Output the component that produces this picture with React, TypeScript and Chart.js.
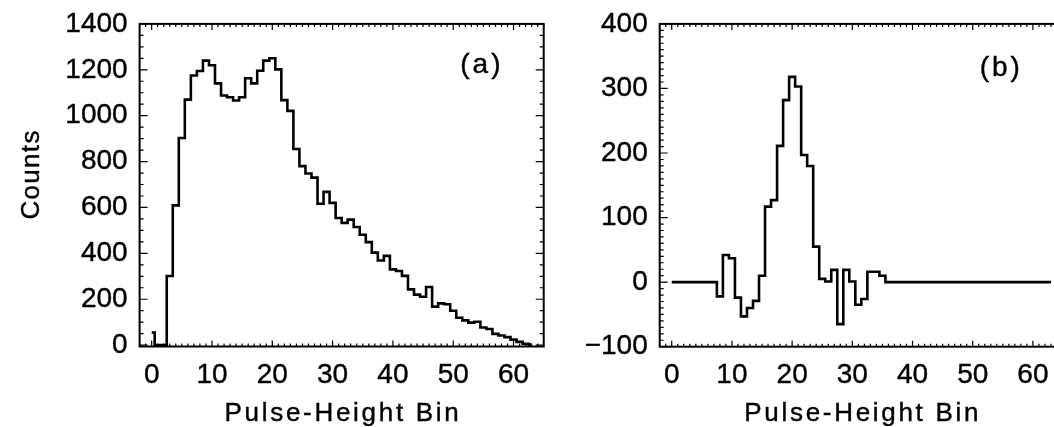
import React, { useEffect, useRef } from 'react';
import { Chart, registerables } from 'chart.js';

Chart.register(...registerables);

// Pulse-height bins 0..63
const bins: number[] = Array.from({ length: 64 }, (_, i) => i);

// Panel (a): counts per bin
const countsA: number[] = [
  55, 0, 0, 301, 609, 903, 1070, 1175, 1195, 1240,
  1220, 1141, 1088, 1080, 1066, 1080, 1163, 1141, 1196, 1240,
  1250, 1202, 1068, 1021, 855, 780, 748, 730, 616, 668,
  620, 554, 533, 547, 515, 481, 449, 403, 369, 389,
  330, 323, 302, 243, 220, 211, 253, 168, 182, 178,
  150, 119, 108, 98, 102, 77, 70, 49, 42, 35,
  24, 14, 6, 2,
];

// Panel (b): difference counts per bin
const countsB: number[] = [
  0, 0, 0, 0, 0, 0, 0, 0, -22, 42,
  37, -24, -53, -40, -29, 10, 117, 127, 211, 282,
  318, 303, 197, 180, 55, 5, 1, 19, -65, 19,
  1, -35, -26, 16, 16, 10, 0, 0, 0, 0,
  0, 0, 0, 0, 0, 0, 0, 0, 0, 0,
  0, 0, 0, 0, 0, 0, 0, 0, 0, 0,
  0, 0, 0, 0,
];

const xTicks: number[] = [0, 10, 20, 30, 40, 50, 60];
const yTicksA: number[] = [0, 200, 400, 600, 800, 1000, 1200, 1400];
const yTicksB: number[] = [-100, 0, 100, 200, 300, 400];
const xRange: number[] = [-2, 65];
const yRangeA: number[] = [-6, 1400];
const yRangeB: number[] = [-100, 400];
const panelLabels: string[] = ['(a)', '(b)'];
const panelLabelPosA: number[] = [54.5, 1218];
const panelLabelPosB: number[] = [54.5, 331];
const xTitle = 'Pulse-Height Bin';
const yTitle = 'Counts';

const FONT = "'Liberation Sans', Arial, Helvetica, sans-serif";
const STROKE = 0.4;

function heavyText(ctx: any, text: string, x: number, y: number) {
  ctx.fillText(text, x, y);
  ctx.strokeText(text, x, y);
}

const idlFrame = {
  id: 'idlFrame',
  afterDatasetsDraw(chart: any, _args: any, opts: any) {
    const { ctx, chartArea: a, scales } = chart;
    const xs = scales.x;
    const ys = scales.y;
    ctx.save();
    ctx.strokeStyle = '#000';
    ctx.lineWidth = 2;
    ctx.strokeRect(a.left, a.top, a.right - a.left, a.bottom - a.top);
    ctx.lineWidth = 1.2;
    ctx.beginPath();
    const xStart = Math.ceil(xs.min / opts.xMinor) * opts.xMinor;
    for (let v = xStart; v <= xs.max + 1e-9; v += opts.xMinor) {
      const px = xs.getPixelForValue(v);
      const len = opts.xMajor.includes(v) ? 6 : 3;
      ctx.moveTo(px, a.bottom);
      ctx.lineTo(px, a.bottom - len);
      ctx.moveTo(px, a.top);
      ctx.lineTo(px, a.top + len);
    }
    const yStart = Math.ceil(ys.min / opts.yMinor) * opts.yMinor;
    for (let v = yStart; v <= ys.max + 1e-9; v += opts.yMinor) {
      const py = ys.getPixelForValue(v);
      const len = opts.yMajor.includes(v) ? 8 : 4;
      ctx.moveTo(a.left, py);
      ctx.lineTo(a.left + len, py);
      ctx.moveTo(a.right, py);
      ctx.lineTo(a.right - len, py);
    }
    ctx.stroke();

    ctx.fillStyle = '#000';
    ctx.lineWidth = STROKE;
    ctx.textAlign = 'center';

    // panel label
    ctx.font = `28px ${FONT}`;
    (ctx as any).letterSpacing = '3px';
    ctx.textBaseline = 'middle';
    heavyText(ctx, opts.label, xs.getPixelForValue(opts.labelPos[0]) + 1.5, ys.getPixelForValue(opts.labelPos[1]));

    // axis titles (drawn here to allow the wide letter spacing of the original)
    ctx.textBaseline = 'alphabetic';
    ctx.font = `26px ${FONT}`;
    (ctx as any).letterSpacing = '2.7px';
    heavyText(ctx, opts.xTitle, (a.left + a.right) / 2 + 1.35, opts.xTitleBaseline);
    if (opts.yTitle) {
      ctx.save();
      ctx.font = `26px ${FONT}`;
      (ctx as any).letterSpacing = '1.3px';
      ctx.translate(opts.yTitleBaseline, opts.yTitleCenter);
      ctx.rotate(-Math.PI / 2);
      heavyText(ctx, opts.yTitle, 0.6, 0);
      ctx.restore();
    }
    (ctx as any).letterSpacing = '0px';
    ctx.restore();
  },
};

function makeConfig(
  values: number[],
  yRange: number[],
  yTicks: number[],
  yMinor: number,
  yAxisWidth: number,
  xAxisHeight: number,
  padRight: number,
  label: string,
  labelPos: number[],
  yTitleText: string,
): any {
  const tickFont = { family: FONT, size: 28, lineHeight: 0.85 };
  return {
    type: 'line',
    data: {
      datasets: [
        {
          data: bins.map((b, i) => ({ x: b, y: values[i] })),
          stepped: 'middle',
          borderColor: '#000',
          borderWidth: 2.6,
          pointRadius: 0,
          fill: false,
        },
      ],
    },
    options: {
      responsive: false,
      animation: false,
      events: [],
      layout: { padding: { top: 13.5, right: padRight, bottom: 0, left: 0 } },
      plugins: {
        legend: { display: false },
        tooltip: { enabled: false },
        idlFrame: {
          xMinor: 1,
          xMajor: xTicks,
          yMinor,
          yMajor: yTicks,
          label,
          labelPos,
          xTitle,
          xTitleBaseline: 421,
          yTitle: yTitleText,
          yTitleBaseline: 39,
          yTitleCenter: 175,
        },
      },
      scales: {
        x: {
          type: 'linear',
          min: xRange[0],
          max: xRange[1],
          afterBuildTicks: (s: any) => {
            s.ticks = xTicks.map((v) => ({ value: v }));
          },
          afterFit: (s: any) => {
            s.height = xAxisHeight;
          },
          grid: { display: false, drawTicks: false },
          border: { display: false },
          ticks: {
            color: '#000',
            textStrokeColor: '#000',
            textStrokeWidth: STROKE,
            padding: 17,
            maxRotation: 0,
            autoSkip: false,
            font: tickFont,
            callback: (v: number) => String(v),
          },
          title: { display: false },
        },
        y: {
          type: 'linear',
          min: yRange[0],
          max: yRange[1],
          afterBuildTicks: (s: any) => {
            s.ticks = yTicks.map((v) => ({ value: v }));
          },
          afterFit: (s: any) => {
            s.width = yAxisWidth;
          },
          grid: { display: false, drawTicks: false },
          border: { display: false },
          ticks: {
            color: '#000',
            textStrokeColor: '#000',
            textStrokeWidth: STROKE,
            padding: 12,
            autoSkip: false,
            font: tickFont,
            callback: (v: number) => (v < 0 ? '\u2212' + Math.abs(v) : String(v)),
          },
          title: { display: false },
        },
      },
    },
    plugins: [idlFrame],
  };
}

export default function App() {
  const refA = useRef<HTMLCanvasElement>(null);
  const refB = useRef<HTMLCanvasElement>(null);

  useEffect(() => {
    const chartA = new Chart(
      refA.current as HTMLCanvasElement,
      makeConfig(countsA, yRangeA, yTicksA, 50, 139.6, 80.5, 56.3, panelLabels[0], panelLabelPosA, yTitle),
    );
    const chartB = new Chart(
      refB.current as HTMLCanvasElement,
      makeConfig(countsB, yRangeB, yTicksB, 10, 99.7, 80.3, 37, panelLabels[1], panelLabelPosB, ''),
    );
    return () => {
      chartA.destroy();
      chartB.destroy();
    };
  }, []);

  return (
    <div
      style={{
        position: 'fixed',
        left: 0,
        top: 0,
        width: 1054,
        height: 427,
        overflow: 'hidden',
        background: '#fff',
      }}
    >
      <canvas
        ref={refA}
        width={600}
        height={427}
        style={{ position: 'absolute', left: 0, top: 0, width: 600, height: 427 }}
      />
      <canvas
        ref={refB}
        width={540}
        height={427}
        style={{ position: 'absolute', left: 560, top: 0, width: 540, height: 427 }}
      />
    </div>
  );
}
